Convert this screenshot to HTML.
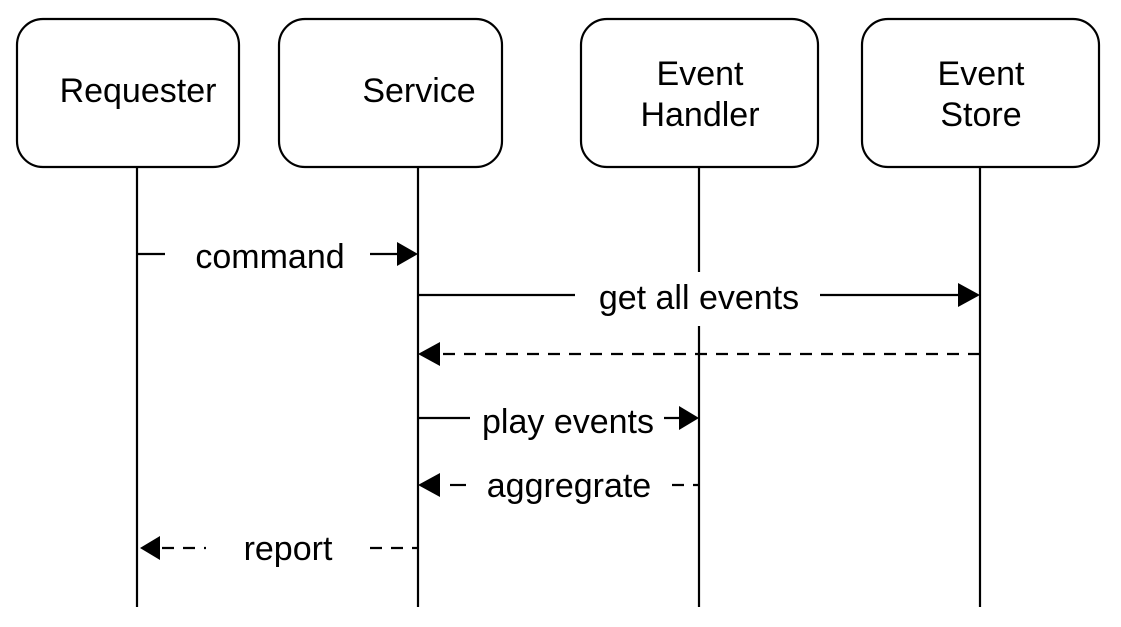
<!DOCTYPE html>
<html><head><meta charset="utf-8"><style>
html,body{margin:0;padding:0;background:#fff;}
svg{display:block}
text{font-family:"Liberation Sans",sans-serif;font-size:34px;fill:#000;}
</style></head><body>
<svg width="1121" height="627" viewBox="0 0 1121 627">
<g fill="none" stroke="#000" stroke-width="2.2">
<rect x="17" y="19" width="222" height="148" rx="26"/>
<rect x="279" y="19" width="223" height="148" rx="26"/>
<rect x="581" y="19" width="237" height="148" rx="26"/>
<rect x="862" y="19" width="237" height="148" rx="26"/>
<line x1="137" y1="167" x2="137" y2="607"/>
<line x1="418" y1="167" x2="418" y2="607"/>
<line x1="699" y1="167" x2="699" y2="607"/>
<line x1="980" y1="167" x2="980" y2="607"/>
<line x1="137" y1="254" x2="165" y2="254"/>
<line x1="370" y1="254" x2="400" y2="254"/>
<line x1="418" y1="295" x2="575" y2="295"/>
<line x1="820" y1="295" x2="960" y2="295"/>
<line x1="980" y1="354" x2="440" y2="354" stroke-dasharray="12,9"/>
<line x1="418" y1="418" x2="470" y2="418"/>
<line x1="664" y1="418" x2="682" y2="418"/>
<line x1="450" y1="485" x2="466" y2="485"/>
<line x1="672" y1="485" x2="699" y2="485" stroke-dasharray="12,9"/>
<line x1="162" y1="548" x2="206" y2="548" stroke-dasharray="12,9"/>
<line x1="370" y1="548" x2="418" y2="548" stroke-dasharray="12,9"/>
</g>
<rect x="588" y="272" width="222" height="54" fill="#fff"/>
<g fill="#000">
<polygon points="397,242 418,254 397,266"/>
<polygon points="958,283 980,295 958,307"/>
<polygon points="440,342 418,354 440,366"/>
<polygon points="679,406 699,418 679,430"/>
<polygon points="440,473 418,485 440,497"/>
<polygon points="160,536 140,548 160,560"/>
</g>
<g text-anchor="middle">
<text x="138" y="102">Requester</text>
<text x="419" y="102">Service</text>
<text x="700" y="85">Event</text>
<text x="700" y="126">Handler</text>
<text x="981" y="85">Event</text>
<text x="981" y="126">Store</text>
<text x="270" y="268">command</text>
<text x="699" y="309">get all events</text>
<text x="568" y="433">play events</text>
<text x="569" y="497">aggregrate</text>
<text x="288" y="560">report</text>
</g>
</svg>
</body></html>
